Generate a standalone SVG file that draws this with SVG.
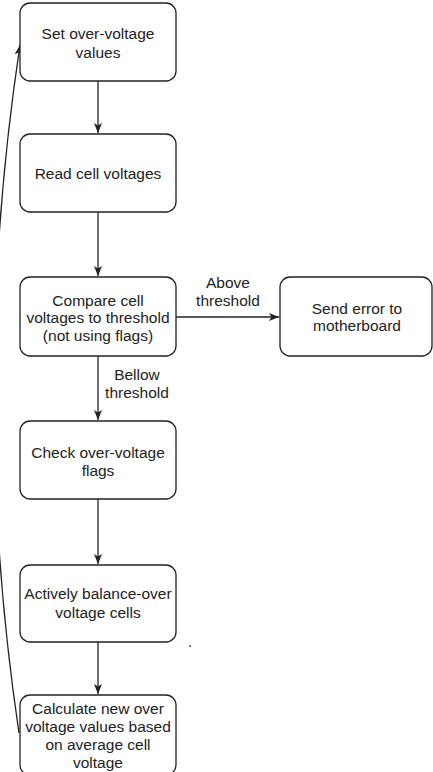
<svg xmlns="http://www.w3.org/2000/svg" width="433" height="772" viewBox="0 0 433 772">
<style>
.box{fill:#fff;stroke:#222;stroke-width:1.3}
.t{font-family:"Liberation Sans",Arial,sans-serif;font-size:15.5px;fill:#222;text-anchor:middle;dominant-baseline:central}
.c{fill:none;stroke:#222;stroke-width:1.3}
</style>
<defs>
<marker id="ah" viewBox="0 0 10 8" refX="10" refY="4" markerWidth="10" markerHeight="8" markerUnits="userSpaceOnUse" orient="auto">
<path d="M0,0 L10,4 L0,8 L2.5,4 z" fill="#222"/>
</marker>
</defs>
<rect width="433" height="772" fill="#fff"/>
<g id="connectors">
<path class="c" d="M98,81 V133" marker-end="url(#ah)"/>
<path class="c" d="M98,212 V276" marker-end="url(#ah)"/>
<path class="c" d="M176,317 H279" marker-end="url(#ah)"/>
<path class="c" d="M98,356 V420" marker-end="url(#ah)"/>
<path class="c" d="M98,499 V564" marker-end="url(#ah)"/>
<path class="c" d="M98,642 V694" marker-end="url(#ah)"/>
<path class="c" d="M19,733 Q-32,390 20,45" marker-end="url(#ah)"/>
<text class="t" x="228" y="282">Above</text>
<text class="t" x="228" y="300">threshold</text>
<text class="t" x="137" y="374">Bellow</text>
<text class="t" x="137" y="392">threshold</text>
</g>
<g id="n1"><rect class="box" x="20" y="3" width="156" height="78" rx="10"/>
<text class="t" x="98" y="33">Set over-voltage</text><text class="t" x="98" y="52">values</text></g>
<g id="n2"><rect class="box" x="20" y="134" width="156" height="78" rx="10"/>
<text class="t" x="98" y="173">Read cell voltages</text></g>
<g id="n3"><rect class="box" x="20" y="277" width="156" height="79" rx="10"/>
<text class="t" x="98" y="300">Compare cell</text><text class="t" x="98" y="317.5">voltages to threshold</text><text class="t" x="98" y="335">(not using flags)</text></g>
<g id="n4"><rect class="box" x="280" y="277" width="152" height="79" rx="10"/>
<text class="t" x="357" y="308">Send error to</text><text class="t" x="357" y="325">motherboard</text></g>
<g id="n5"><rect class="box" x="20" y="421" width="156" height="78" rx="10"/>
<text class="t" x="98" y="452">Check over-voltage</text><text class="t" x="98" y="470">flags</text></g>
<g id="n6"><rect class="box" x="20" y="565" width="156" height="77" rx="10"/>
<text class="t" x="98" y="593">Actively balance-over</text><text class="t" x="98" y="612">voltage cells</text></g>
<g id="n7"><rect class="box" x="20" y="695" width="156" height="80" rx="10"/>
<text class="t" x="98" y="708">Calculate new over</text><text class="t" x="98" y="726">voltage values based</text><text class="t" x="98" y="744">on average cell</text><text class="t" x="98" y="762">voltage</text></g>
<circle cx="190" cy="646" r="1" fill="#3344cc"/>
</svg>
